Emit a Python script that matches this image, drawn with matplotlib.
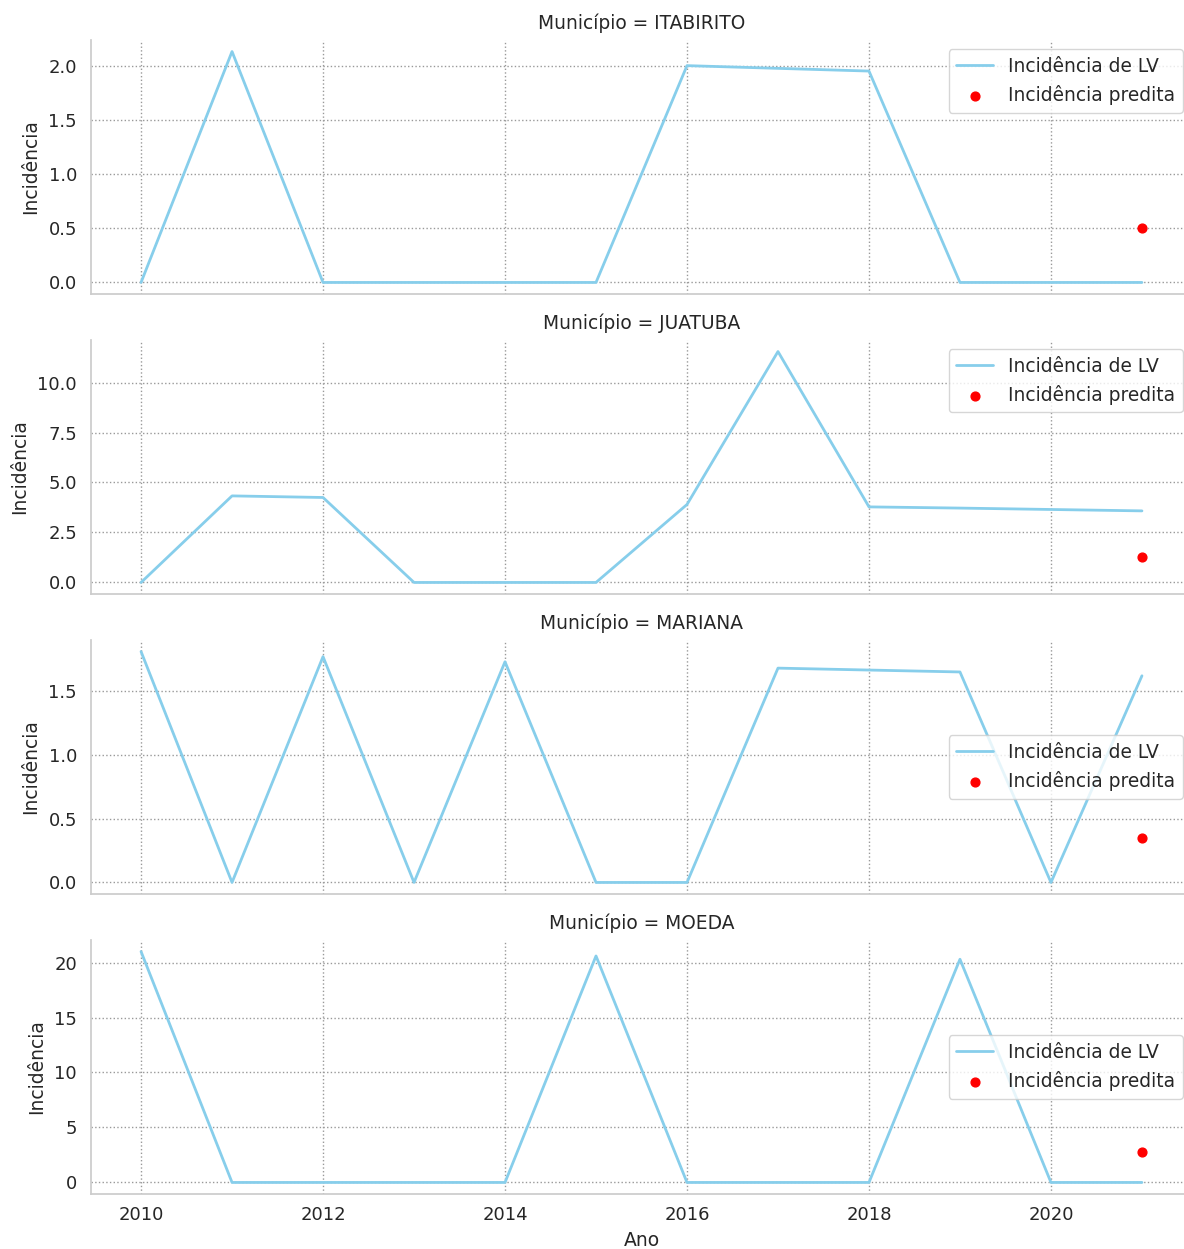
import matplotlib
matplotlib.use("Agg")
import matplotlib.pyplot as plt
from matplotlib.ticker import MaxNLocator
import seaborn as sns

sns.set_theme(style="whitegrid", rc={"grid.linestyle": ":", "grid.color": "#999999"})
plt.rcParams["font.family"] = ["DejaVu Sans"]

anos = list(range(2010, 2022))
ano_predicao = 2021

municipios = ["ITABIRITO", "JUATUBA", "MARIANA", "MOEDA"]

itabirito = [0.0, 2.13, 0.0, 0.0, 0.0, 0.0, 2.00, 1.975, 1.95, 0.0, 0.0, 0.0]
juatuba = [0.0, 4.33, 4.25, 0.0, 0.0, 0.0, 3.90, 11.55, 3.78, 3.72, 3.65, 3.58]
mariana = [1.81, 0.0, 1.77, 0.0, 1.73, 0.0, 0.0, 1.68, 1.665, 1.65, 0.0, 1.62]
moeda = [21.0, 0.0, 0.0, 0.0, 0.0, 20.6, 0.0, 0.0, 0.0, 20.3, 0.0, 0.0]

predita = [0.50, 1.27, 0.35, 2.75]

series = [itabirito, juatuba, mariana, moeda]
legend_locs = ["upper right", "upper right", "center right", "center right"]

W, H = 1184, 1249
fig = plt.figure(figsize=(W / 100, H / 100), dpi=100)

left_px, right_px = 91, 1192
tops = [40, 340, 640, 940]
ax_h = 254

axes = []
for i, nome in enumerate(municipios):
    top = tops[i]
    ax = fig.add_axes([left_px / W, 1 - (top + ax_h) / H,
                       (right_px - left_px) / W, ax_h / H],
                      sharex=axes[0] if axes else None)
    axes.append(ax)
    ax.plot(anos, series[i], color="skyblue", lw=2.0, label="Incidência de LV")
    ax.scatter([ano_predicao], [predita[i]], color="red", s=40, zorder=3,
               label="Incidência predita")
    ax.set_title(f"Município = {nome}", fontsize=13.4, color="#262626", pad=8)
    ax.set_ylabel("Incidência", fontsize=13.5, color="#262626", labelpad=6)
    ax.yaxis.set_major_locator(MaxNLocator(nbins=6, steps=[1, 2.5, 5, 10]))
    ax.tick_params(axis="y", labelsize=13, colors="#262626", length=0, pad=10)
    ax.tick_params(axis="x", labelsize=13, colors="#262626", length=0, pad=9)
    ax.grid(True, linestyle=":", color="#999999", linewidth=1.0)
    for s in ("top", "right"):
        ax.spines[s].set_visible(False)
    for s in ("left", "bottom"):
        ax.spines[s].set_color("#cccccc")
        ax.spines[s].set_linewidth(1.25)
    ax.legend(loc=legend_locs[i], fontsize=13.4, frameon=True)
    if i < len(municipios) - 1:
        plt.setp(ax.get_xticklabels(), visible=False)

axes[-1].set_xlabel("Ano", fontsize=13.5, color="#262626", labelpad=5)

fig.savefig("out.png", dpi=100)
